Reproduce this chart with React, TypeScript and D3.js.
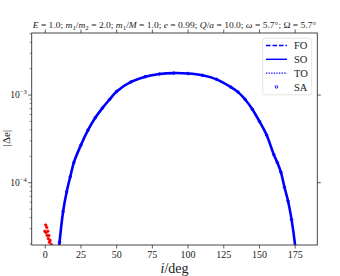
import React from 'react';
import * as d3 from 'd3';

const inclination = [9.5, 10, 12.5, 15, 17.5, 20, 25, 30, 35, 40, 45, 50, 60, 70, 80, 90, 100, 110, 120, 130, 135, 140, 145, 150, 155, 160, 162.5, 165, 167.5, 170, 172.5, 175, 175.5];
const soValues = [1.7e-5, 2.1e-5, 4.7e-5, 7.9e-5, 1.17e-4, 1.7e-4, 2.7e-4, 4.0e-4, 5.5e-4, 7.1e-4, 8.9e-4, 1.1e-3, 1.41e-3, 1.62e-3, 1.74e-3, 1.78e-3, 1.76e-3, 1.68e-3, 1.51e-3, 1.23e-3, 1.08e-3, 8.9e-4, 6.9e-4, 5.0e-4, 3.5e-4, 2.1e-4, 1.7e-4, 1.32e-4, 8.9e-5, 6.2e-5, 3.8e-5, 1.9e-5, 1.5e-5];

const redIncA = [0.3, 1, 1.8, 2.6, 3.4, 4.2];
const redValA = [3.3e-5, 3.1e-5, 2.8e-5, 2.5e-5, 2.2e-5, 1.97e-5];
const redIncB = [-0.3, 0.5, 1.3, 2.1, 2.9];
const redValB = [2.8e-5, 2.7e-5, 2.5e-5, 2.3e-5, 2.1e-5];

const xTicks = [0, 25, 50, 75, 100, 125, 150, 175];
const yMajor = [1e-4, 1e-3];
const yMajorExp = ['−4', '−3'];
const legendLabels = ['FO', 'SO', 'TO', 'SA'];

const W = 340, H = 276;
const L = 31.7, R = 317.3, T = 33, B = 245;

export default function App() {
  const x = d3.scaleLinear().domain([-9.5, 190.5]).range([L, R]);
  const y = d3.scaleLog().domain([1.95e-5, 5.1e-3]).range([B, T]);
  const pts = inclination.map((d, k) => [d, soValues[k]] as [number, number]);
  const line = d3.line<[number, number]>().x(d => x(d[0])).y(d => y(d[1])).curve(d3.curveCatmullRom);
  const minor: number[] = [];
  for (let e = -5; e <= -3; e++) for (let m = 2; m <= 9; m++) {
    const v = m * Math.pow(10, e);
    if (v >= 1.95e-5 && v <= 5.1e-3) minor.push(v);
  }
  const font = "'Liberation Serif', 'DejaVu Serif', serif";
  const blue = '#0000ff';
  const axisCol = '#333';
  return (
    <svg width={W} height={H} style={{ position: 'absolute', left: 0, top: 0, background: '#fff' }} fontFamily={font}>
      <defs>
        <clipPath id="plotclip"><rect x={L} y={T} width={R - L} height={B - T} /></clipPath>
      </defs>
      <rect x={0} y={0} width={W} height={H} fill="#fff" />
      {/* title */}
      <text x={(L + R) / 2} y={27.5} fontSize={9} textAnchor="middle" fill="#222" textLength={R - L - 2} lengthAdjust="spacingAndGlyphs">
        <tspan fontStyle="italic">E</tspan> = 1.0; <tspan fontStyle="italic">m</tspan><tspan fontSize={6.5} dy={2}>1</tspan><tspan dy={-2}>/</tspan><tspan fontStyle="italic">m</tspan><tspan fontSize={6.5} dy={2}>2</tspan><tspan dy={-2}> = 2.0; </tspan><tspan fontStyle="italic">m</tspan><tspan fontSize={6.5} dy={2}>1</tspan><tspan dy={-2}>/</tspan><tspan fontStyle="italic">M</tspan> = 1.0; <tspan fontStyle="italic">e</tspan> = 0.99; <tspan fontStyle="italic">Q</tspan>/<tspan fontStyle="italic">a</tspan> = 10.0; <tspan fontStyle="italic">ω</tspan> = 5.7°; Ω = 5.7°
      </text>
      {/* data */}
      <g clipPath="url(#plotclip)">
        <path d={line(pts) || ''} fill="none" stroke={blue} strokeWidth={2.6} />
        <path d={line(pts) || ''} fill="none" stroke={blue} strokeWidth={1.4} strokeDasharray="4 2" />
        {pts.map((p, k) => (
          <circle key={'sa' + k} cx={x(p[0])} cy={y(p[1])} r={1.3} fill="none" stroke={blue} strokeWidth={0.9} />
        ))}
        {redIncA.map((d, k) => (
          <circle key={'ra' + k} cx={x(d)} cy={y(redValA[k])} r={1.3} fill="#f00" stroke="#e00" strokeWidth={0.6} />
        ))}
        {redIncB.map((d, k) => (
          <circle key={'rb' + k} cx={x(d)} cy={y(redValB[k])} r={1.3} fill="#f00" stroke="#e00" strokeWidth={0.6} />
        ))}
      </g>
      {/* frame */}
      <rect x={L} y={T} width={R - L} height={B - T} fill="none" stroke={axisCol} strokeWidth={0.9} />
      {/* x ticks */}
      {xTicks.map(t => (
        <g key={'xt' + t}>
          <line x1={x(t)} x2={x(t)} y1={B} y2={B + 3.5} stroke={axisCol} strokeWidth={0.8} />
          <line x1={x(t)} x2={x(t)} y1={T} y2={T - 3.5} stroke={axisCol} strokeWidth={0.8} />
          <text x={x(t)} y={B + 12.5} fontSize={10} textAnchor="middle" fill="#222">{t}</text>
        </g>
      ))}
      {/* y ticks */}
      {yMajor.map((v, k) => (
        <g key={'ym' + k}>
          <line x1={L} x2={L - 3.5} y1={y(v)} y2={y(v)} stroke={axisCol} strokeWidth={0.8} />
          <line x1={R} x2={R + 3.5} y1={y(v)} y2={y(v)} stroke={axisCol} strokeWidth={0.8} />
          <text x={L - 5} y={y(v) + 3} fontSize={9.5} textAnchor="end" fill="#222">10<tspan fontSize={6.5} dy={-4}>{yMajorExp[k]}</tspan></text>
        </g>
      ))}
      {minor.map((v, k) => (
        <line key={'mn' + k} x1={L} x2={L - 2} y1={y(v)} y2={y(v)} stroke={axisCol} strokeWidth={0.6} />
      ))}
      {/* axis labels */}
      <text x={(L + R) / 2} y={272.5} fontSize={14} textAnchor="middle" fill="#222"><tspan fontStyle="italic">i</tspan>/deg</text>
      <text transform={`translate(10,138) rotate(-90)`} fontSize={11} textAnchor="middle" fill="#222">|Δe|</text>
      {/* legend */}
      <rect x={262.7} y={38.3} width={49} height={56.5} rx={2} fill="#fff" fillOpacity={0.85} stroke="#ddd" strokeWidth={0.8} />
      {legendLabels.map((lab, k) => {
        const ly = 45.5 + k * 13.8;
        return (
          <g key={'lg' + k}>
            {k === 0 && <line x1={266} x2={287} y1={ly} y2={ly} stroke={blue} strokeWidth={1.4} strokeDasharray="4.5 2" />}
            {k === 1 && <line x1={266} x2={287} y1={ly} y2={ly} stroke={blue} strokeWidth={1.4} />}
            {k === 2 && <line x1={266} x2={287} y1={ly} y2={ly} stroke={blue} strokeWidth={1.4} strokeDasharray="1.3 1.3" />}
            {k === 3 && <circle cx={276.5} cy={ly} r={1.3} fill="none" stroke={blue} strokeWidth={0.9} />}
            <text x={294} y={ly + 3.6} fontSize={10.5} fill="#222">{lab}</text>
          </g>
        );
      })}
    </svg>
  );
}
